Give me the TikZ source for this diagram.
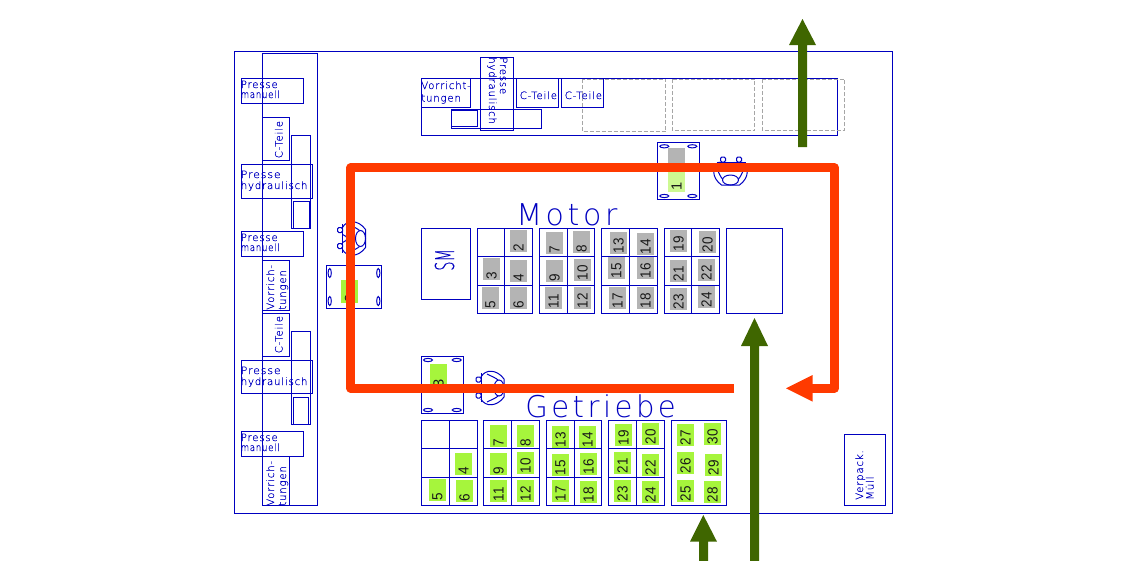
\documentclass[tikz,border=0pt]{standalone}
\usepackage{fontspec}
\setsansfont{Liberation Sans}
\newfontfamily\thinf[LetterSpace=8,FakeBold=0.25]{DejaVu Sans ExtraLight}
\newfontfamily\thinh[LetterSpace=12]{DejaVu Sans ExtraLight}
\newfontfamily\thins[FakeBold=0.3]{DejaVu Sans ExtraLight}
\definecolor{cad}{HTML}{0000C0}
\definecolor{gry}{HTML}{B4B4B4}
\definecolor{grn}{HTML}{A6F53C}
\definecolor{pale}{HTML}{CDF992}
\definecolor{org}{HTML}{FF3A00}
\definecolor{dgr}{HTML}{3F6600}
\newcommand\personmark[4]{% name, x, y, rotation
  \begin{scope}[shift={(#2,#3)},rotate=#4,ln]
    \coordinate (#1) at (0,0);
    \draw (-14,-12) -- (15,-12);
    \draw[rounded corners=1pt] (-10,-12) rectangle (-5,-17);
    \draw[rounded corners=1pt] (6,-12) rectangle (11,-17);
    \draw (-11,-12) .. controls (-19,-8) and (-19,4) .. (-9,11) -- (9,11) .. controls (19,4) and (19,-8) .. (11,-12);
    \draw (-14,-6) .. controls (-11,0) and (-10,3) .. (-8,5);
    \draw (14,-6) .. controls (11,0) and (10,3) .. (8,5);
    \draw (0,6) ellipse (8 and 5);
    \draw (-4,-12) .. controls (-2,-6) and (2,-6) .. (4,-12);
  \end{scope}}
\tikzset{
  ln/.style={draw=cad,line width=0.75pt},
  dsh/.style={draw=black!35,line width=0.7pt,dash pattern=on 3pt off 1.5pt},
  txt/.style={text=cad,inner sep=0pt,font=\thinf\fontsize{7.6}{7.6}\selectfont},
  hd/.style={text=cad,inner sep=0pt,font=\thinh\fontsize{22.5}{22.5}\selectfont},
  numl/.style={rotate=90,anchor=west,inner sep=0pt,text=black!90,font=\sffamily\fontsize{11}{11}\selectfont},
  route/.style={draw=org,line width=6.6pt,line join=round},
  arrowg/.style={fill=dgr,draw=none},
}
\begin{document}
\begin{tikzpicture}[x=0.75pt,y=-0.75pt]
\useasboundingbox (0,0) rectangle (1122,561);
% walls
\draw[ln] (234.5,51) rectangle (892.5,513);
\draw[ln] (262,53) rectangle (317.5,505);
% left column boxes
\foreach \ya/\yb in {78/103.7,231.3/256.3,431.3/456.3}{\draw[ln] (241.3,\ya) rectangle (303.3,\yb);}
\foreach \ya/\yb in {164.3/198.3,360.3/393.3}{\draw[ln] (241.3,\ya) rectangle (312.3,\yb);}
\foreach \ya/\yb in {117.3/160.7,260/310.3,313.3/356.3,456.3/505}{\draw[ln] (262,\ya) rectangle (289.7,\yb);}
\draw[ln] (291.3,135.3) rectangle (310.7,228.3);
\draw[ln] (293.3,201.3) rectangle (309,228.3);
\draw[ln] (291.6,331.7) rectangle (310.7,424.3);
\draw[ln] (293.3,397) rectangle (308.5,424.3);
% top bench
\draw[ln] (421.3,78.3) rectangle (837.5,135.3);
\draw[ln] (421.3,78.3) rectangle (470.3,107.3);
\draw[ln] (480.3,57.3) rectangle (513.3,130.3);
\draw[ln] (451.3,109.3) rectangle (541.3,128.3);
\draw[ln] (451.3,110.7) rectangle (477.7,126.7);
\draw[ln] (516.3,78.3) rectangle (558.3,107.3);
\draw[ln] (561.3,78.3) rectangle (603.3,107.3);
\draw[dsh] (582.3,79) rectangle (665.7,131.7);
\draw[dsh] (672.3,79) rectangle (754.7,130.7);
\draw[dsh] (762.3,79) rectangle (844.3,130.7);
% motor fills
\foreach \xa/\ya/\n in {510/230/2,483/258/3,510/260/4,482/287/5,510/287/6,546/232/7,573/231/8,546/260/9,574/259/10,545/287/11,574/287/12,610/232/13,637/233/14,608/257/15,637/257/16,609/287/17,637/287/18,670/230/19,699/231/20,670/260/21,698/259/22,670/288/23,698/286/24}{
  \fill[gry] (\xa,\ya) rectangle ++(17,22);
  \node[numl,name=m\n] at (\xa+8.5,\ya+21.5) {\scalebox{.92}[1]{\n}};
}
% gear fills
\foreach \xa/\ya/\n in {455/453/4,429/479/5,456/480/6,490/425/7,517/425/8,490/453/9,517/452/10,490/480/11,517/480/12,552/426/13,579/426/14,552/454/15,580/453/16,552/480/17,580/481/18,615/424/19,642/423/20,614/452/21,642/454/22,614/480/23,642/481/24,677/480/25,677/452/26,677/424/27,704/481/28,705/454/29,704/423/30}{
  \fill[grn] (\xa,\ya) rectangle ++(17,22);
  \node[numl,name=g\n] at (\xa+8.5,\ya+21.5) {\scalebox{.92}[1]{\n}};
}
% motor grids
\foreach \xa/\xm/\xb in {477.3/504.3/532.7,539.3/567.3/594.7,601.3/629.3/657.3,664.3/691.3/719.3}{
  \draw[ln] (\xa,228.3) rectangle (\xb,313.3);
  \draw[ln] (\xm,228.3) -- (\xm,313.3);
  \draw[ln] (\xa,256.7) -- (\xb,256.7) (\xa,285.3) -- (\xb,285.3);
}
\draw[ln] (726.3,228.3) rectangle (782.7,313.3);
\draw[ln] (421.3,228.3) rectangle (470.3,299.3);
% gear grids
\foreach \xa/\xm/\xb in {421.3/449.3/477.3,483.3/511.3/539.3,546.3/574.3/601.7,608.3/636.3/664.3}{
  \draw[ln] (\xa,420.3) rectangle (\xb,505.3);
  \draw[ln] (\xm,420.3) -- (\xm,505.3);
  \draw[ln] (\xa,448.3) -- (\xb,448.3) (\xa,477) -- (\xb,477);
}
\draw[ln] (671.3,420.3) rectangle (726.7,505.3);
\draw[ln] (844.3,434.3) rectangle (885.7,505.3);
% carts
\fill[gry] (668,148) rectangle (685,164);
\fill[pale] (668,164) rectangle (685,191.7);
\draw[ln] (657.3,142.3) rectangle (699.3,199.3);
\foreach \cx/\cy in {664.3/146.3,692.3/146.3,664.3/196,692.3/196}{\draw[ln] (\cx,\cy) ellipse (4.5 and 1.6);}
\node[numl,name=c1] at (676.5,191) {1};
\fill[grn] (341,280) rectangle (358,303);
\draw[ln] (326.3,265) rectangle (381.7,308.3);
\foreach \cx/\cy in {329.7/273,378.3/273,329.7/301,378.3/301}{\draw[ln] (\cx,\cy) ellipse (1.6 and 4.5);}
\node[numl,name=c2] at (350,303) {2};
\fill[grn] (430,364) rectangle (447,390);
\draw[ln] (421.3,356.3) rectangle (463.7,413.3);
\foreach \cx/\cy in {428/360,456.7/360,428/410,456.7/410}{\draw[ln] (\cx,\cy) ellipse (4.5 and 1.6);}
\node[numl,name=c3] at (438.5,388) {3};
% operators
\personmark{p1}{730.5}{174}{0}
\personmark{p2}{354.5}{238.5}{90}
\personmark{p3}{493}{388}{90}
% labels
\node[txt,anchor=base west,name=t1] at (240.5,88) {Presse};
\node[txt,anchor=base west,name=t2] at (240.5,98) {\scalebox{.85}[1]{manuell}};
\node[txt,anchor=base west,name=t3] at (240.5,178) {\scalebox{1.08}[1]{Presse}};
\node[txt,anchor=base west,name=t4] at (240.5,189) {hydraulisch};
\node[txt,anchor=base west,name=t5] at (240.5,241) {Presse};
\node[txt,anchor=base west,name=t6] at (240.5,251) {\scalebox{.85}[1]{manuell}};
\node[txt,anchor=base west,name=t7] at (240.5,374) {\scalebox{1.08}[1]{Presse}};
\node[txt,anchor=base west,name=t8] at (240.5,385) {hydraulisch};
\node[txt,anchor=base west,name=t9] at (240.5,441) {Presse};
\node[txt,anchor=base west,name=t10] at (240.5,451) {\scalebox{.85}[1]{manuell}};
\node[txt,rotate=90,anchor=base west,name=t11] at (282.5,158.5) {C-Teile};
\node[txt,rotate=90,anchor=base west,name=t12] at (282.5,353.5) {C-Teile};
\node[txt,rotate=90,anchor=base west,name=t13] at (274,310) {Vorrich-};
\node[txt,rotate=90,anchor=base west,name=t14] at (286,310) {tungen};
\node[txt,rotate=90,anchor=base west,name=t15] at (274,506) {Vorrich-};
\node[txt,rotate=90,anchor=base west,name=t16] at (286,506) {tungen};
\node[txt,anchor=base west,name=t17] at (421,89) {Vorricht-};
\node[txt,anchor=base west,name=t18] at (421,101.5) {tungen};
\node[txt,rotate=-90,anchor=base west,name=t19] at (500,57) {Presse};
\node[txt,rotate=-90,anchor=base west,name=t20] at (489,57) {hydraulisch};
\node[txt,anchor=base west,name=t21] at (519.5,99) {C-Teile};
\node[txt,anchor=base west,name=t22] at (564.5,99) {C-Teile};
\node[txt,rotate=90,anchor=base west,name=t23] at (863,500) {Verpack.};
\node[txt,rotate=90,anchor=base west,name=t24] at (873.5,500) {M\"ull};
\node[hd,anchor=base west,name=motor] at (516,225.5) {Motor};
\node[hd,anchor=base west,name=getriebe] at (525,417) {\scalebox{.97}[1]{Getriebe}};
\node[text=cad,inner sep=0pt,rotate=90,anchor=base west,font=\thins\fontsize{19.5}{19.5}\selectfont,name=sm] at (454,271) {\scalebox{.56}[1]{SM}};
% route
\coordinate (r0) at (734,388.3);
\coordinate (r1) at (350.8,388.3);
\coordinate (r2) at (350.8,167.7);
\coordinate (r3) at (834.5,167.7);
\coordinate (r4) at (834.5,388.3);
\coordinate (r5) at (808,388.3);
\coordinate (rtip) at (786,388.3);
\draw[route] (r0) -- (r1) -- (r2) -- (r3) -- (r4) -- (r5);
\fill[org] (rtip) -- (812.7,375) -- (812.7,401.6) -- cycle;
% green arrows
\fill[arrowg] (798,147) -- (798,45) -- (789,45) -- (802.5,19) -- (816,45) -- (807,45) -- (807,147) -- cycle;
\fill[arrowg] (750,561) -- (750,346) -- (741,346) -- (754.5,318) -- (768,346) -- (759,346) -- (759,561) -- cycle;
\fill[arrowg] (699,561) -- (699,541.7) -- (690,541.7) -- (703.3,515) -- (717,541.7) -- (708,541.7) -- (708,561) -- cycle;
\end{tikzpicture}
\end{document}
